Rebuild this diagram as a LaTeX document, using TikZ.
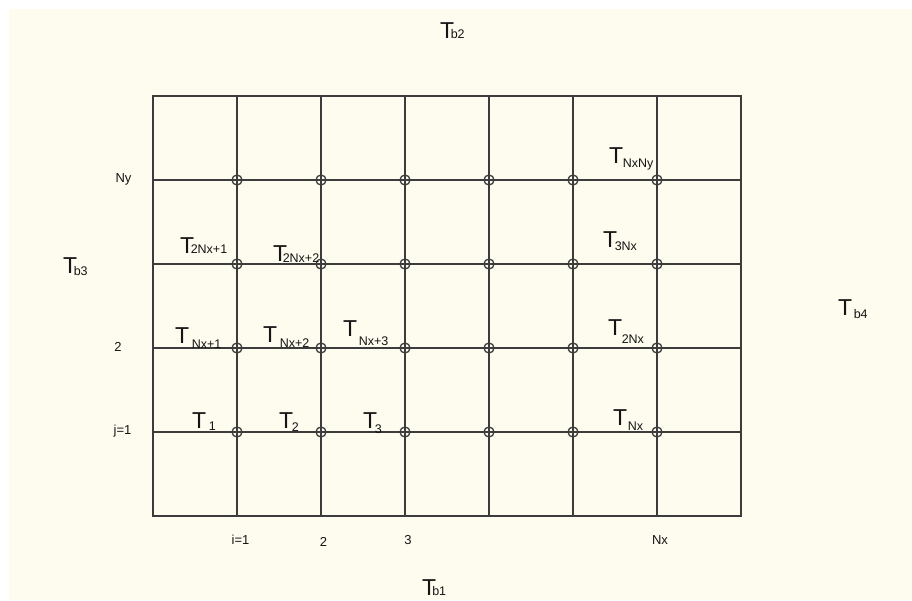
\documentclass[tikz,border=0pt]{standalone}
\usepackage{fontspec}
\setmainfont{Liberation Sans}
\usetikzlibrary{positioning}
\definecolor{paper}{HTML}{FEFBEF}
\definecolor{gridcol}{HTML}{3C3C3C}
\definecolor{inkcol}{HTML}{141414}
% T with a lowered index: {index}{kern}{drop}
\newcommand{\Tix}[3]{T\kern#2pt\raisebox{-#3pt}{\fontsize{12.5}{12.5}\selectfont #1}}

\begin{document}
\begin{tikzpicture}[x=1pt,y=-1pt,
    gline/.style={gridcol,line width=1.3pt},
    gpt/.style={circle,draw=gridcol,line width=1.3pt,minimum size=10pt,inner sep=0pt},
    tlab/.style={anchor=base west,inner sep=0pt,text=inkcol,font=\fontsize{23}{23}\selectfont},
    ilab/.style={inner sep=0pt,text=inkcol,font=\fontsize{13}{13}\selectfont}]
    \useasboundingbox (0,0) rectangle (912,600);
    \fill[paper] (9,9) rectangle (912,600);
    % grid
    \draw[gline] (153,96) rectangle (741,516);
    \foreach \i in {1,...,6} \draw[gline] ({153+84*\i},96) -- ++(0,420);
    \foreach \j in {1,...,4} \draw[gline] (153,{516-84*\j}) -- ++(588,0);
    \foreach \i in {1,...,6} \foreach \j in {1,...,4}
      \node[gpt](p\i\j) at ({153+84*\i},{516-84*\j}){};
    % boundary temperatures
    \node[tlab](tb2) at (440,38){\Tix{b2}{-3.5}{0}};
    \node[tlab](tb1) at (422,595){\Tix{b1}{-4}{0}};
    \node[tlab](tb3) at (63,273){\Tix{b3}{-3.5}{2}};
    \node[tlab](tb4) at (838,315){\Tix{b4}{1.5}{3}};
    % nodal temperatures
    \node[tlab](t1) at (192,428){\Tix{1}{2.5}{2}};
    \node[tlab](t2) at (279,428){\Tix{2}{-1.5}{3}};
    \node[tlab](t3) at (363,428){\Tix{3}{-2.5}{5}};
    \node[tlab](tnx1) at (175,343){\Tix{Nx+1}{2.5}{5}};
    \node[tlab](tnx2) at (263,342){\Tix{Nx+2}{2.5}{5}};
    \node[tlab](tnx3) at (343,336){\Tix{Nx+3}{1.5}{9}};
    \node[tlab](t2nx1) at (180,253){\Tix{2Nx+1}{-3.5}{0}};
    \node[tlab](t2nx2) at (273,261){\Tix{2Nx+2}{-4.5}{1}};
    \node[tlab](tnxny) at (609,163){\Tix{NxNy}{-0.5}{4}};
    \node[tlab](t3nx) at (603,247){\Tix{3Nx}{-2.5}{3}};
    \node[tlab](t2nx) at (608,335){\Tix{2Nx}{-0.5}{8}};
    \node[tlab](tnx) at (613,425){\Tix{Nx}{0.5}{5}};
    % indices
    \node[ilab](jny) at (123.5,179){Ny};
    \node[ilab](j2) at (118,347){2};
    \node[ilab](j1) at (122.5,431){j=1};
    \node[ilab](i1) at (240.5,540){i=1};
    \node[ilab](i2) at (323.5,542){2};
    \node[ilab](i3) at (408,540){3};
    \node[ilab](inx) at (660,540){Nx};
\end{tikzpicture}
\end{document}
